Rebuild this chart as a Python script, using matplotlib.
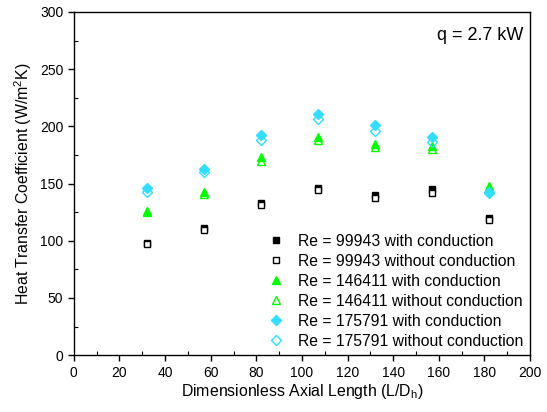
import matplotlib
matplotlib.use("Agg")
import matplotlib.pyplot as plt
from matplotlib.ticker import MultipleLocator

plt.rcParams['font.family'] = ['Liberation Sans', 'DejaVu Sans']
plt.rcParams['mathtext.default'] = 'regular'
plt.rcParams['font.size'] = 10

# axial positions (L/Dh)
x = [32, 57, 82, 107, 132, 157, 182]

# heat transfer coefficient, W/m2K
re1_with = [98, 111, 133, 146, 140, 145, 120]
re1_without = [97, 109, 131, 144, 137, 142, 118]
re2_with = [126, 143, 173, 191, 185, 183, 148]
re2_without = [125, 141, 170, 188, 182, 180, 145]
re3_with = [146, 163, 192, 211, 201, 191, 143]
re3_without = [143, 160, 188, 206, 196, 186, 142]

labels = ["Re = 99943 with conduction", "Re = 99943 without conduction",
          "Re = 146411 with conduction", "Re = 146411 without conduction",
          "Re = 175791 with conduction", "Re = 175791 without conduction"]

fig = plt.figure(figsize=(5.47, 4.12), dpi=100)
ax = fig.add_axes([0.135, 0.138, 0.834, 0.833])

ms = 5
ax.plot(x, re1_with, 's', color='black', ms=ms, label=labels[0])
ax.plot(x, re1_without, 's', mfc='white', mec='black', ms=ms, label=labels[1])
ax.plot(x, re2_with, '^', color='#00ff00', ms=ms + 1, label=labels[2])
ax.plot(x, re2_without, '^', mfc='none', mec='#00ff00', ms=ms + 1, label=labels[3])
ax.plot(x, re3_with, 'D', color='#33ddff', ms=ms, label=labels[4])
ax.plot(x, re3_without, 'D', mfc='none', mec='#33ddff', ms=ms, label=labels[5])

ax.set_xlim(0, 200)
ax.set_ylim(0, 300)
ax.xaxis.set_major_locator(MultipleLocator(20))
ax.xaxis.set_minor_locator(MultipleLocator(10))
ax.yaxis.set_major_locator(MultipleLocator(50))
ax.yaxis.set_minor_locator(MultipleLocator(25))
ax.tick_params(which='major', direction='out', length=4, width=1)
ax.tick_params(which='minor', direction='in', length=3, width=0.8)
for s in ax.spines.values():
    s.set_linewidth(1)

ax.set_xlabel("Dimensionless Axial Length (L/D$_h$)", fontsize=11.4, labelpad=2)
ax.set_ylabel("Heat Transfer Coefficient (W/m$^2$K)", fontsize=11.4)

ax.text(0.985, 0.955, "q = 2.7 kW", transform=ax.transAxes, ha='right', va='top', fontsize=13)

ax.legend(loc='lower right', frameon=False, fontsize=11.3, handletextpad=0.9,
          labelspacing=0.32, borderaxespad=0.0, handlelength=1.0)

fig.savefig("out.png", dpi=100)
